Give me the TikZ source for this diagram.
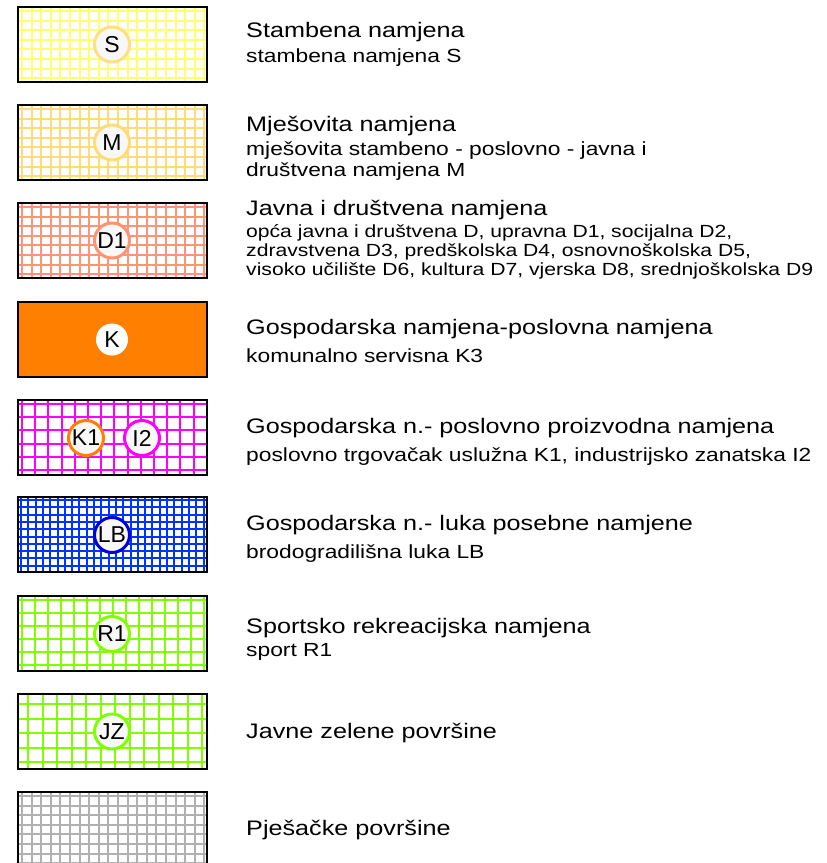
\documentclass[tikz,border=0pt]{standalone}
\usepackage{fontspec}
\setmainfont[FakeStretch=1.2]{Liberation Sans}
\newfontfamily\badgefont{Liberation Sans}
\definecolor{cS}{HTML}{FFFF70}
\definecolor{cSc}{HTML}{FFE080}
\definecolor{cM}{HTML}{FFDC78}
\definecolor{cD}{HTML}{FF9474}
\definecolor{cK}{HTML}{FF8000}
\definecolor{cI}{HTML}{FF00FF}
\definecolor{cLB}{HTML}{0033FF}
\definecolor{cLBc}{HTML}{0000DD}
\definecolor{cR}{HTML}{80FF00}
\definecolor{cP}{HTML}{B0B0B0}
\definecolor{cfill}{HTML}{F8F8F8}
\tikzset{
  frame/.style={draw=black, line width=2pt},
  gridline/.style={line width=2pt},
  badge/.style={circle, fill=cfill, line width=3pt, minimum size=35pt, inner sep=0pt,
    font=\badgefont\fontsize{23}{25}\selectfont},
  title/.style={anchor=base west, inner sep=0pt, font=\fontsize{21}{25}\selectfont},
  sub/.style={anchor=base west, inner sep=0pt, font=\fontsize{19}{22}\selectfont},
  subsmall/.style={anchor=base west, inner sep=0pt, font=\fontsize{17.6}{19}\selectfont},
}
% #1 top y, #2 colour, #3 spacing, #4 first line offset
\newcommand{\gridswatch}[4]{%
  \begin{scope}
    \clip (18,#1) rectangle (207,#1+75);
    \fill[white] (18,#1) rectangle (207,#1+75);
    \foreach \i in {0,...,30} {
      \draw[gridline, #2] ({18+#4+\i*#3}, #1) -- ++(0,75);
      \draw[gridline, #2] (18, {#1+#4+\i*#3}) -- ++(189,0);
    }
  \end{scope}
  \draw[frame] (18,#1) rectangle (207,#1+75);
}
\begin{document}
\begin{tikzpicture}[x=1pt,y=-1pt]
\useasboundingbox (0,0) rectangle (827,863);
\fill[white] (0,0) rectangle (827,863);

% 1 S
\gridswatch{7}{cS}{9.6}{4}
\node[badge, draw=cSc] (bS) at (112,44.5) {S};
\node[title] (t1) at (246,37) {Stambena namjena};
\node[sub] (s1) at (246,62) {stambena namjena S};

% 2 M
\gridswatch{105}{cM}{9.6}{4}
\node[badge, draw=cM] (bM) at (112,142.5) {M};
\node[title] (t2) at (246,131) {Mješovita namjena};
\node[sub] (s2a) at (246,155) {mješovita stambeno - poslovno - javna i};
\node[sub] (s2b) at (246,176) {društvena namjena M};

% 3 D1
\gridswatch{203}{cD}{9.6}{4}
\node[badge, draw=cD] (bD) at (112,240.5) {D1};
\node[title] (t3) at (246,215) {Javna i društvena namjena};
\node[subsmall] (s3a) at (246,237) {opća javna i društvena D, upravna D1, socijalna D2,};
\node[subsmall] (s3b) at (246,256) {zdravstvena D3, predškolska D4, osnovnoškolska D5,};
\node[subsmall] (s3c) at (246,275) {visoko učilište D6, kultura D7, vjerska D8, srednjoškolska D9};

% 4 K
\fill[cK] (18,302) rectangle (207,377);
\draw[frame] (18,302) rectangle (207,377);
\node[circle, fill=white, minimum size=32pt, inner sep=0pt, font=\badgefont\fontsize{23}{25}\selectfont] (bK) at (112,339.5) {K};
\node[title] (t4) at (246,334) {Gospodarska namjena-poslovna namjena};
\node[sub] (s4) at (246,362) {komunalno servisna K3};

% 5 K1 I2
\gridswatch{400}{cI}{13.2}{4}
\node[badge, draw=cK] (bK1) at (86,438) {K1};
\node[badge, draw=cI] (bI2) at (142,438) {I2};
\node[title] (t5) at (246,433) {Gospodarska n.- poslovno proizvodna namjena};
\node[sub] (s5) at (246,461) {poslovno trgovačak uslužna K1, industrijsko zanatska I2};

% 6 LB
\gridswatch{497}{cLB}{7.3}{3}
\node[badge, draw=cLBc] (bLB) at (112,535) {LB};
\node[title] (t6) at (246,530) {Gospodarska n.- luka posebne namjene};
\node[sub] (s6) at (246,558) {brodogradilišna luka LB};

% 7 R1
\gridswatch{596}{cR}{13}{4}
\node[badge, draw=cR] (bR) at (112,634) {R1};
\node[title] (t7) at (246,633) {Sportsko rekreacijska namjena};
\node[sub] (s7) at (246,656) {sport R1};

% 8 JZ
\gridswatch{694}{cR}{14.5}{10}
\node[badge, draw=cR] (bJZ) at (112,731.5) {JZ};
\node[title] (t8) at (246,738) {Javne zelene površine};

% 9 Pjesacke
\gridswatch{792}{cP}{9.6}{4}
\node[title] (t9) at (246,835) {Pješačke površine};
\end{tikzpicture}
\end{document}
